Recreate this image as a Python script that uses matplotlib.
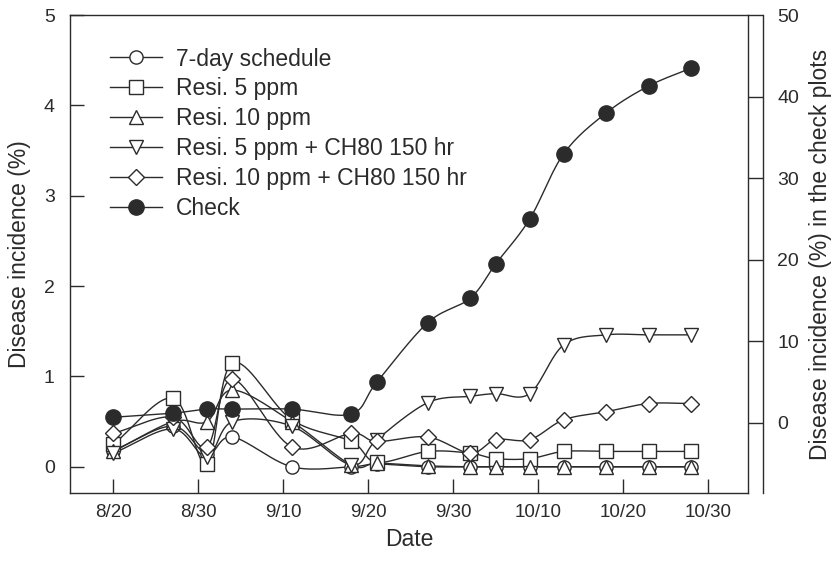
import numpy as np
import matplotlib
matplotlib.use('Agg')
from matplotlib import pyplot as plt

plt.rcParams['font.family'] = ['Liberation Sans', 'DejaVu Sans']

# days after 8/20
days = [0, 7, 11, 14, 21, 28, 31, 37, 42, 45, 49, 53, 58, 63, 68]

seven_day = [0.18, 0.45, 0.14, 0.33, 0.0, 0.0, 0.03, 0.0, 0.0, 0.0, 0.0, 0.0, 0.0, 0.0, 0.0]
resi5 = [0.25, 0.76, 0.03, 1.15, 0.52, 0.28, 0.05, 0.17, 0.15, 0.09, 0.09, 0.17, 0.17, 0.17, 0.17]
resi10 = [0.17, 0.50, 0.50, 0.85, 0.50, 0.02, 0.04, 0.01, 0.0, 0.0, 0.0, 0.0, 0.0, 0.0, 0.0]
resi5_ch = [0.15, 0.42, 0.11, 0.50, 0.45, 0.02, 0.30, 0.71, 0.78, 0.81, 0.81, 1.35, 1.46, 1.46, 1.46]
resi10_ch = [0.37, 0.55, 0.22, 0.97, 0.22, 0.37, 0.28, 0.33, 0.15, 0.30, 0.30, 0.52, 0.61, 0.70, 0.70]
check = [0.7, 1.2, 1.7, 1.7, 1.7, 1.1, 5.0, 12.3, 15.3, 19.5, 25.0, 33.0, 38.0, 41.3, 43.5]

xtick_pos = [0, 10, 20, 30, 40, 50, 60, 70]
xtick_labels = ['8/20', '8/30', '9/10', '9/20', '9/30', '10/10', '10/20', '10/30']

series = [
    ('7-day schedule', seven_day, 'o', 9.5),
    ('Resi. 5 ppm', resi5, 's', 9.5),
    ('Resi. 10 ppm', resi10, '^', 10),
    ('Resi. 5 ppm + CH80 150 hr', resi5_ch, 'v', 10),
    ('Resi. 10 ppm + CH80 150 hr', resi10_ch, 'D', 8.5),
]

ink = '#2b2b2b'


def smooth(x, y, n=16):
    """Catmull-Rom curve through the points (for the drawn line only)."""
    x = np.asarray(x, float)
    y = np.asarray(y, float)
    px = np.concatenate([[2 * x[0] - x[1]], x, [2 * x[-1] - x[-2]]])
    py = np.concatenate([[2 * y[0] - y[1]], y, [2 * y[-1] - y[-2]]])
    t = np.linspace(0, 1, n, endpoint=False)[:, None]
    xs, ys = [], []
    for i in range(1, len(px) - 2):
        for p, out in ((px, xs), (py, ys)):
            p0, p1, p2, p3 = p[i - 1], p[i], p[i + 1], p[i + 2]
            c = 0.5 * ((2 * p1) + (-p0 + p2) * t + (2 * p0 - 5 * p1 + 4 * p2 - p3) * t ** 2
                       + (-p0 + 3 * p1 - 3 * p2 + p3) * t ** 3)
            out.append(c.ravel())
    xs.append([x[-1]])
    ys.append([y[-1]])
    return np.concatenate(xs), np.concatenate(ys)


fig = plt.figure(figsize=(8.34, 5.62), dpi=100)
ax = fig.add_axes([0.084, 0.1228, 0.813, 0.8505])
ax2 = ax.twinx()

handles = []
for label, vals, mk, ms in series:
    sx, sy = smooth(days, vals)
    ax.plot(sx, sy, color=ink, lw=1.0, zorder=2)
    ax.plot(days, vals, ls='none', marker=mk, ms=ms, mfc='white', mec=ink, mew=1.0, zorder=3)
    h, = ax.plot([], [], color=ink, lw=1.0, marker=mk, ms=ms, mfc='white', mec=ink, mew=1.0)
    handles.append((h, label))

sx, sy = smooth(days, check)
ax2.plot(sx, sy, color=ink, lw=1.0, zorder=2)
ax2.plot(days, check, ls='none', marker='o', ms=11, mfc=ink, mec=ink, zorder=3)
h, = ax2.plot([], [], color=ink, lw=1.0, marker='o', ms=11, mfc=ink, mec=ink)
handles.append((h, 'Check'))

ax.set_xlim(-5.1, 74.7)
ax.set_ylim(-0.29, 5.0)
ax2.set_ylim(-8.58, 50)

ax.set_xticks(xtick_pos)
ax.set_xticklabels(xtick_labels)
ax.set_yticks([0, 1, 2, 3, 4, 5])
ax2.set_yticks([0, 10, 20, 30, 40, 50])

ax.tick_params(axis='both', direction='in', length=10, width=1.0, colors=ink, labelsize=14)
ax.tick_params(axis='x', pad=8, top=False, labelsize=13.5)
ax.tick_params(axis='y', pad=11, right=False)
ax2.spines['right'].set_position(('outward', 11))
ax2.tick_params(axis='y', direction='in', length=11, width=1.0, colors=ink, labelsize=14, pad=10)

for a in (ax, ax2):
    for s in a.spines.values():
        s.set_color(ink)
        s.set_linewidth(1.0)
ax2.spines['left'].set_visible(False)
ax2.spines['top'].set_visible(False)
ax2.spines['bottom'].set_visible(False)

ax.set_xlabel('Date', fontsize=16.5, color=ink, labelpad=5)
ax.set_ylabel('Disease incidence (%)', fontsize=16.5, color=ink, labelpad=9)
ax2.set_ylabel('Disease incidence (%) in the check plots', fontsize=16.5, color=ink, labelpad=7)

leg = ax2.legend([h for h, _ in handles], [l for _, l in handles],
                 loc='upper left', bbox_to_anchor=(0.059, 0.932), frameon=False,
                 fontsize=16.5, handlelength=2.27, handletextpad=0.6,
                 labelspacing=0.3, borderpad=0, borderaxespad=0)
for t in leg.get_texts():
    t.set_color(ink)

fig.savefig('out.png', dpi=100)
